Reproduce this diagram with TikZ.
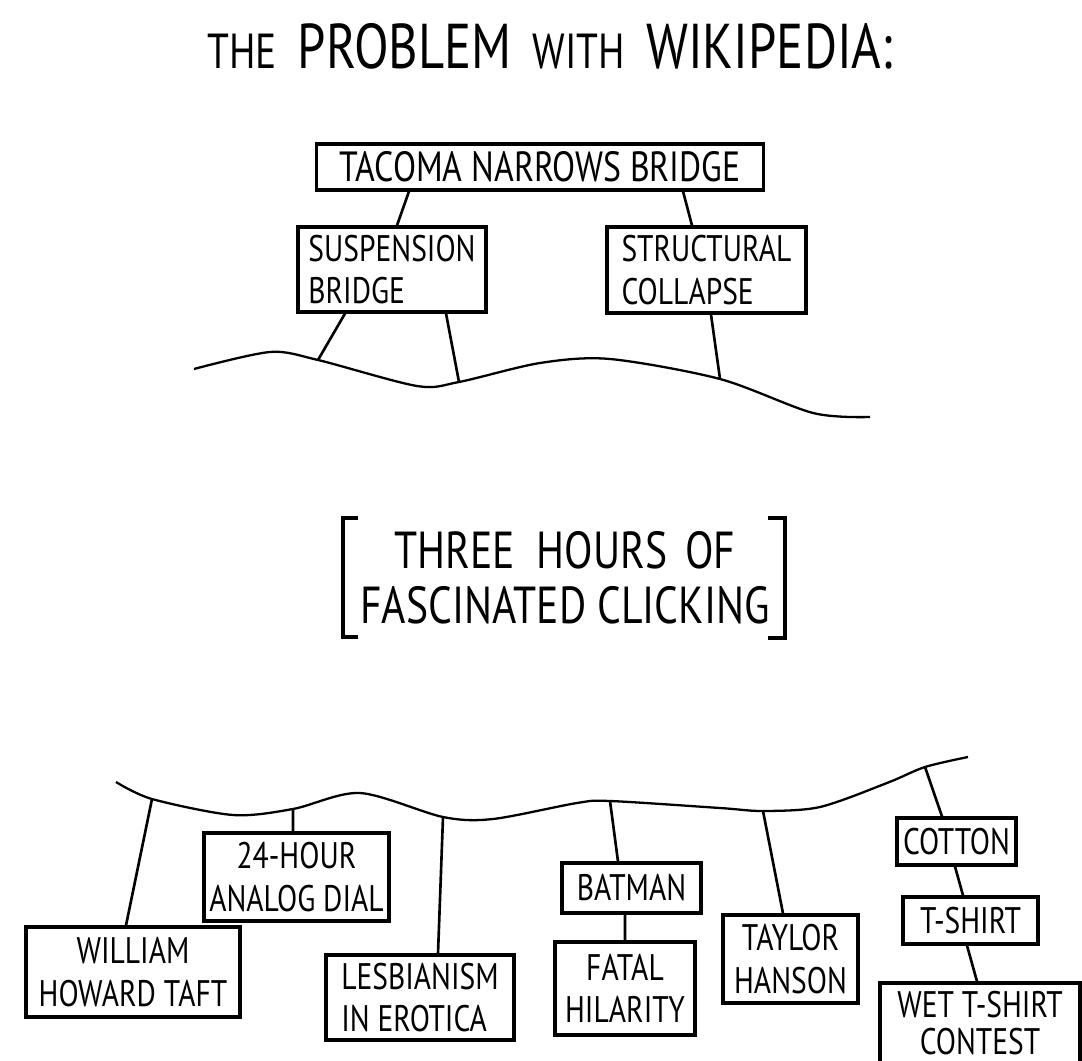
\documentclass[tikz,border=0pt]{standalone}
\usepackage{fontspec}
\setmainfont{PT Sans}[FakeStretch=0.8]
\usepackage{tikz}

\tikzset{
    box/.style={draw, line width=0.9pt, inner sep=0pt, align=center,
        font=\fontsize{10.5}{12}\selectfont},
    link/.style={line width=0.75pt},
    wave/.style={line width=0.65pt}
}
\newcommand{\titlesmall}[1]{{\fontsize{14}{14}\selectfont #1}}

\begin{document}
\begin{tikzpicture}[x=0.01cm, y=-0.01cm]
    \useasboundingbox (0,0) rectangle (1082,1061);
    \clip (0,0) rectangle (1082,1061);

    \node[anchor=base, font=\fontsize{18}{18}\selectfont] (title) at (550,69)
        {\titlesmall{THE}\hspace{6pt}PROBLEM\hspace{6pt}\titlesmall{WITH}\hspace{6pt}WIKIPEDIA:};

    % before
    \node[box, minimum width=4.46cm, minimum height=0.46cm, font=\fontsize{12}{13}\selectfont] (tacoma) at (540,167) {TACOMA NARROWS BRIDGE};
    \node[box, minimum width=1.88cm, minimum height=0.85cm, align=left] (suspension) at (392,269.5) {SUSPENSION\\BRIDGE};
    \node[box, minimum width=1.99cm, minimum height=0.86cm, align=left] (collapse) at (706.5,270) {STRUCTURAL\\COLLAPSE};

    \foreach \n/\x/\y in {s1/318/360, s2/459/382, s3/720/379}
    \coordinate (\n) at (\x,\y);

    \draw[wave] plot[smooth] coordinates {(194,369) (270,352) (s1) (417,386) (s2) (540,363) (610,359) (s3) (813,413) (870,417)};

    \draw[link] ([xshift=-1.31cm]tacoma.south) -- ([xshift=0.05cm]suspension.north);
    \draw[link] ([xshift=1.43cm]tacoma.south) -- ([xshift=-0.145cm]collapse.north);
    \draw[link] ([xshift=-0.47cm]suspension.south) -- (s1);
    \draw[link] ([xshift=0.54cm]suspension.south) -- (s2);
    \draw[link] ([xshift=0.045cm]collapse.south) -- (s3);

    \node[font=\fontsize{14.8}{15.5}\selectfont, align=center] (clicking) at (565,578) {THREE\hspace{3pt} HOURS\hspace{2pt} OF\\FASCINATED CLICKING};
    \draw[line width=0.9pt] (358,518) -| (343,637) -- (358,637);
    \draw[line width=0.9pt] (768,518) -| (785,638) -- (768,638);

    % after
    \node[box, minimum width=2.14cm, minimum height=0.9cm] (taft) at (133,972) {WILLIAM\\HOWARD TAFT};
    \node[box, minimum width=1.85cm, minimum height=0.88cm] (dial) at (296.5,877) {24-HOUR\\ANALOG DIAL};
    \node[box, minimum width=1.88cm, minimum height=0.85cm, align=left] (erotica) at (420,997.5) {LESBIANISM\\IN EROTICA};
    \node[box, minimum width=1.39cm, minimum height=0.5cm] (batman) at (631.5,888) {BATMAN};
    \node[box, minimum width=1.4cm, minimum height=0.93cm] (hilarity) at (625,988.5) {FATAL\\HILARITY};
    \node[box, minimum width=1.35cm, minimum height=0.88cm] (hanson) at (790.5,959) {TAYLOR\\HANSON};
    \node[box, minimum width=1.19cm, minimum height=0.47cm] (cotton) at (956.5,841.5) {COTTON};
    \node[box, minimum width=1.35cm, minimum height=0.47cm] (tshirt) at (970.5,920.5) {T-SHIRT};
    \node[box, minimum width=2cm, minimum height=0.8cm, font=\fontsize{10.5}{10.5}\selectfont] (contest) at (980,1023) {WET T-SHIRT\\CONTEST};

    \foreach \n/\x/\y in {b1/152/799, b2/293/809, b3/443/817, b4/610/801, b5/763/811, b6/925/767}
    \coordinate (\n) at (\x,\y);

    \draw[wave] plot[smooth] coordinates {(116,782) (b1) (233,815) (b2) (360,793) (b3) (493,819) (577,803) (b4) (720,808) (b5) (820,807) (887,783) (b6) (968,757)};

    \draw[link] (b1) -- ([xshift=-0.07cm]taft.north);
    \draw[link] (b2) -- ([xshift=-0.035cm]dial.north);
    \draw[link] (b3) -- ([xshift=0.18cm]erotica.north);
    \draw[link] (b4) -- ([xshift=-0.135cm]batman.north);
    \draw[link] ([xshift=-0.065cm]batman.south) -- (hilarity.north);
    \draw[link] (b5) -- ([xshift=-0.075cm]hanson.north);
    \draw[link] (b6) -- ([xshift=-0.145cm]cotton.north);
    \draw[link] ([xshift=-0.015cm]cotton.south) -- ([xshift=-0.075cm]tshirt.north);
    \draw[link] ([xshift=-0.035cm]tshirt.south) -- ([xshift=-0.03cm]contest.north);
\end{tikzpicture}
\end{document}
